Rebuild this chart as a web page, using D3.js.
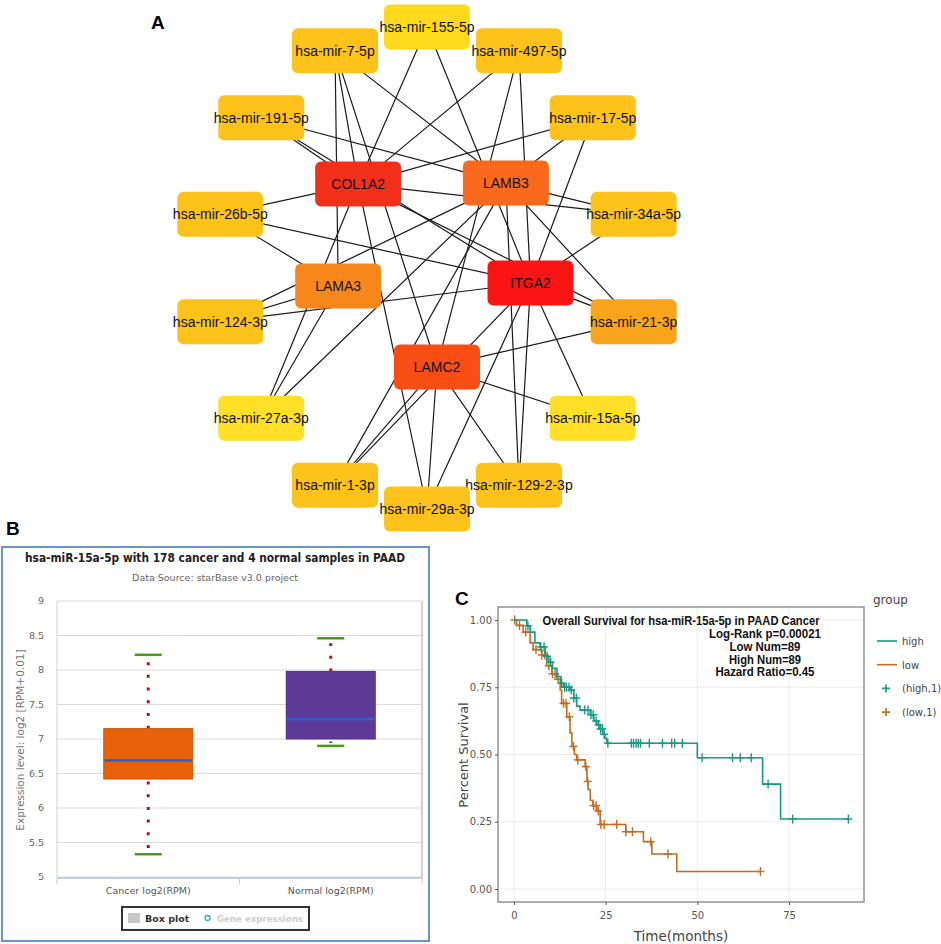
<!DOCTYPE html>
<html>
<head>
<meta charset="utf-8">
<script src="https://cdn.jsdelivr.net/npm/d3@7"></script>
<style>
body { margin: 0; background: #fff; }
svg { display: block; }
</style>
</head>
<body>
<script>
// ---------- data ----------
const genes = ["COL1A2", "LAMB3", "LAMA3", "ITGA2", "LAMC2"];
const geneColors = ["#f2301a", "#fb6a1c", "#f8871b", "#fb1414", "#f84d15"];
const mirnas = ["hsa-mir-155-5p", "hsa-mir-497-5p", "hsa-mir-17-5p", "hsa-mir-34a-5p", "hsa-mir-21-3p",
    "hsa-mir-15a-5p", "hsa-mir-129-2-3p", "hsa-mir-29a-3p", "hsa-mir-1-3p", "hsa-mir-27a-3p",
    "hsa-mir-124-3p", "hsa-mir-26b-5p", "hsa-mir-191-5p", "hsa-mir-7-5p"];
const mirnaColors = ["#ffda1c", "#fdc31a", "#fdc31a", "#fdc31a", "#f9a51c", "#ffdf28", "#fdc31a",
    "#fdc31a", "#fdc31a", "#ffdf28", "#fdc31a", "#fdc31a", "#fdc31a", "#fdc31a"];
const links = [
    ["hsa-mir-155-5p", "COL1A2"], ["hsa-mir-155-5p", "ITGA2"],
    ["hsa-mir-7-5p", "COL1A2"], ["hsa-mir-7-5p", "LAMC2"], ["hsa-mir-7-5p", "LAMB3"], ["hsa-mir-7-5p", "LAMA3"],
    ["hsa-mir-497-5p", "COL1A2"], ["hsa-mir-497-5p", "LAMC2"], ["hsa-mir-497-5p", "ITGA2"],
    ["hsa-mir-191-5p", "COL1A2"], ["hsa-mir-191-5p", "ITGA2"], ["hsa-mir-191-5p", "LAMB3"],
    ["hsa-mir-17-5p", "COL1A2"], ["hsa-mir-17-5p", "LAMB3"], ["hsa-mir-17-5p", "ITGA2"],
    ["hsa-mir-26b-5p", "COL1A2"], ["hsa-mir-26b-5p", "ITGA2"], ["hsa-mir-26b-5p", "LAMA3"],
    ["hsa-mir-34a-5p", "COL1A2"], ["hsa-mir-34a-5p", "LAMB3"], ["hsa-mir-34a-5p", "ITGA2"],
    ["hsa-mir-124-3p", "LAMB3"], ["hsa-mir-124-3p", "LAMA3"], ["hsa-mir-124-3p", "ITGA2"],
    ["hsa-mir-21-3p", "ITGA2"], ["hsa-mir-21-3p", "LAMC2"], ["hsa-mir-21-3p", "LAMB3"], ["hsa-mir-21-3p", "COL1A2"],
    ["hsa-mir-27a-3p", "LAMA3"], ["hsa-mir-27a-3p", "LAMB3"], ["hsa-mir-27a-3p", "COL1A2"],
    ["hsa-mir-15a-5p", "LAMC2"], ["hsa-mir-15a-5p", "ITGA2"],
    ["hsa-mir-1-3p", "LAMB3"], ["hsa-mir-1-3p", "LAMC2"], ["hsa-mir-1-3p", "ITGA2"],
    ["hsa-mir-29a-3p", "COL1A2"], ["hsa-mir-29a-3p", "LAMC2"], ["hsa-mir-29a-3p", "ITGA2"],
    ["hsa-mir-129-2-3p", "LAMC2"], ["hsa-mir-129-2-3p", "ITGA2"], ["hsa-mir-129-2-3p", "LAMB3"]
];

// box plot (panel B)
const boxGroups = ["Cancer log2(RPM)", "Normal log2(RPM)"];
const boxMin = [5.33, 6.90];
const boxQ1 = [6.42, 7.00];
const boxMedian = [6.69, 7.29];
const boxQ3 = [7.15, 7.98];
const boxMax = [8.22, 8.46];
const boxColors = ["#e8620a", "#5e3a98"];
const boxTicks = [5, 5.5, 6, 6.5, 7, 7.5, 8, 8.5, 9];

// survival (panel C)
const highTime = [0, 3.5, 4.4, 5.7, 7.1, 8.5, 9.5, 10.5, 11.7, 12.8, 13.5, 15.3, 16.3, 17.1, 18, 20.8, 21.8, 22.6, 23.5, 24.2, 24.8, 25.3, 50, 67.8, 72.7, 91.3];
const highSurv = [1, 0.978, 0.955, 0.915, 0.9, 0.865, 0.843, 0.82, 0.79, 0.765, 0.75, 0.74, 0.71, 0.68, 0.665, 0.648, 0.625, 0.61, 0.595, 0.575, 0.56, 0.542, 0.488, 0.39, 0.26, 0.26];
const highCensor = [3.8, 7.3, 8.2, 9, 10, 13, 13.8, 14.3, 15, 15.6, 16.3, 17, 19.3, 20.2, 21, 21.6, 22.4, 23.1, 23.6, 24.1, 24.6, 25.6,
    32, 32.6, 33.3, 33.9, 34.5, 36.9, 40.5, 43, 43.8, 45.9, 51.3, 59.6, 61.7, 64.7, 69.3, 76, 91.2];
const lowTime = [0, 0.7, 2.5, 4.4, 5.2, 7.6, 8.9, 10.3, 11.7, 12.6, 13, 14.4, 15.3, 15.8, 16.5, 17.1, 19.4, 19.9, 20.2, 20.8, 21.5, 22.6, 23.5, 30.5, 35.3, 37.6, 44.4, 67.2];
const lowSurv = [1, 0.98, 0.955, 0.915, 0.89, 0.87, 0.83, 0.8, 0.78, 0.74, 0.69, 0.64, 0.58, 0.53, 0.5, 0.48, 0.455, 0.4, 0.37, 0.33, 0.31, 0.29, 0.24, 0.213, 0.176, 0.13, 0.065, 0.065];
const lowCensor = [0.2, 1.5, 3.2, 6, 7.6, 8.4, 9.5, 10.5, 11.2, 12, 13.5, 14.2, 15.1, 16.2, 17.4, 19.6, 20.1, 21.7, 22.4, 23, 23.7, 24.6,
    28, 30.5, 32.3, 37.3, 42, 67.2];
const survTicksX = [0, 25, 50, 75];
const survTicksY = [0, 0.25, 0.5, 0.75, 1];
const annTitle = "Overall Survival for hsa-miR-15a-5p in PAAD Cancer";
const annotation = ["Log-Rank p=0.00021", "Low Num=89", "High Num=89", "Hazard Ratio=0.45"];

// ---------- svg ----------
const W = 941, H = 944;
const svg = d3.select("body").append("svg")
    .attr("width", W)
    .attr("height", H);
svg.append("rect").attr("width", W).attr("height", H).attr("fill", "#fff");

function panelLabel(txt, x, y) {
    svg.append("text").attr("x", x).attr("y", y)
        .attr("font-family", "Liberation Sans, Arial, sans-serif")
        .attr("font-weight", "bold").attr("font-size", 19)
        .text(txt);
}
panelLabel("A", 151, 29);
panelLabel("B", 6, 535);
panelLabel("C", 455, 605);

// ---------- panel A : network ----------
const net = svg.append("g").attr("class", "network");
const cx = 427, cy = 268, rx = 212, ry = 241;
const angle = d3.scaleLinear().domain([0, mirnas.length]).range([0, 2 * Math.PI]);
// inner ring layout (angle in degrees from top, radius)
const geneLayout = { COL1A2: [-44.6, 108], LAMB3: [42.7, 106], LAMA3: [-104.6, 99], ITGA2: [102.8, 99], LAMC2: [178.4, 106] };
const gcx = 434, gcy = 261;

const pos = {};
mirnas.forEach((m, i) => {
    const a = angle(i);
    pos[m] = [cx + rx * Math.sin(a), cy - ry * Math.cos(a)];
});
genes.forEach(g => {
    const [deg, r] = geneLayout[g];
    const a = deg * Math.PI / 180;
    pos[g] = [gcx + r * Math.sin(a), gcy - r * Math.cos(a)];
});

net.selectAll("line.edge")
    .data(links)
    .join("line")
    .attr("class", "edge")
    .attr("x1", d => pos[d[0]][0]).attr("y1", d => pos[d[0]][1])
    .attr("x2", d => pos[d[1]][0]).attr("y2", d => pos[d[1]][1])
    .attr("stroke", "#1a1a1a")
    .attr("stroke-width", 1.2);

const nodes = mirnas.map((m, i) => ({ id: m, color: mirnaColors[i] }))
    .concat(genes.map((g, i) => ({ id: g, color: geneColors[i] })));
const nw = 86, nh = 45;
const ng = net.selectAll("g.node")
    .data(nodes)
    .join("g")
    .attr("class", "node")
    .attr("transform", d => `translate(${pos[d.id][0]},${pos[d.id][1]})`);
ng.append("rect")
    .attr("x", -nw / 2).attr("y", -nh / 2)
    .attr("width", nw).attr("height", nh)
    .attr("rx", 6)
    .attr("fill", d => d.color);
ng.append("text")
    .attr("text-anchor", "middle")
    .attr("dy", "0.35em")
    .attr("font-family", "Liberation Sans, Arial, sans-serif")
    .attr("font-size", 14)
    .attr("fill", "#111")
    .text(d => d.id);

// ---------- panel B : box plot ----------
const bp = svg.append("g").attr("class", "boxplot");
bp.append("rect")
    .attr("x", 2).attr("y", 547).attr("width", 427).attr("height", 394)
    .attr("fill", "#fff").attr("stroke", "#6d92c6").attr("stroke-width", 2);
bp.append("text")
    .attr("x", 215).attr("y", 562)
    .attr("text-anchor", "middle")
    .attr("font-family", "DejaVu Sans, sans-serif")
    .attr("font-weight", "bold").attr("font-size", 12)
    .attr("textLength", 380).attr("lengthAdjust", "spacingAndGlyphs")
    .attr("fill", "#222")
    .text("hsa-miR-15a-5p with 178 cancer and 4 normal samples in PAAD");
bp.append("text")
    .attr("x", 215).attr("y", 581)
    .attr("text-anchor", "middle")
    .attr("font-family", "DejaVu Sans, sans-serif")
    .attr("font-size", 9.5)
    .attr("fill", "#666")
    .text("Data Source: starBase v3.0 project");

const by = d3.scaleLinear().domain([5, 9]).range([877, 601]);
const bx = d3.scaleBand().domain(boxGroups).range([57, 422]);
bp.selectAll("line.grid")
    .data(boxTicks)
    .join("line")
    .attr("class", "grid")
    .attr("x1", 57).attr("x2", 422)
    .attr("y1", d => by(d)).attr("y2", d => by(d))
    .attr("stroke", "#dcdcdc").attr("stroke-width", 1);
bp.append("line").attr("x1", 57).attr("x2", 57).attr("y1", 601).attr("y2", 877).attr("stroke", "#d0d0d0");
bp.append("line").attr("x1", 422).attr("x2", 422).attr("y1", 601).attr("y2", 877).attr("stroke", "#c4c4c4").attr("stroke-width", 1.5);
bp.append("line").attr("x1", 57).attr("x2", 423).attr("y1", 878).attr("y2", 878).attr("stroke", "#c2cfde").attr("stroke-width", 2);
bp.selectAll("line.xtick")
    .data([57, 239.5, 422])
    .join("line")
    .attr("class", "xtick")
    .attr("x1", d => d).attr("x2", d => d)
    .attr("y1", 878).attr("y2", 884)
    .attr("stroke", "#c2cfde");
bp.selectAll("text.ylab")
    .data(boxTicks)
    .join("text")
    .attr("class", "ylab")
    .attr("x", 44).attr("y", d => by(d) + 3)
    .attr("text-anchor", "end")
    .attr("font-family", "DejaVu Sans, sans-serif")
    .attr("font-size", 9.5)
    .attr("fill", "#666")
    .text(d => d);
bp.append("text")
    .attr("transform", "translate(24,740) rotate(-90)")
    .attr("text-anchor", "middle")
    .attr("font-family", "DejaVu Sans, sans-serif")
    .attr("font-size", 10.5)
    .attr("fill", "#777")
    .text("Expression level: log2 [RPM+0.01]");
bp.selectAll("text.xlab")
    .data(boxGroups)
    .join("text")
    .attr("class", "xlab")
    .attr("x", d => bx(d) + bx.bandwidth() / 2).attr("y", 894)
    .attr("text-anchor", "middle")
    .attr("font-family", "DejaVu Sans, sans-serif")
    .attr("font-size", 9.5)
    .attr("fill", "#555")
    .text(d => d);

const boxW = 89, capW = 27;
boxGroups.forEach((g, i) => {
    const c = bx(g) + bx.bandwidth() / 2;
    // dotted whiskers
    bp.append("line")
        .attr("x1", c).attr("x2", c)
        .attr("y1", by(boxQ3[i])).attr("y2", by(boxMax[i]) + 5)
        .attr("stroke", "#a51818").attr("stroke-width", 3)
        .attr("stroke-dasharray", "3,9.7");
    bp.append("line")
        .attr("x1", c).attr("x2", c)
        .attr("y1", by(boxQ1[i]) + 2.5).attr("y2", by(boxMin[i]) - 3)
        .attr("stroke", "#a51818").attr("stroke-width", 3)
        .attr("stroke-dasharray", "3,9.7");
    bp.append("rect")
        .attr("x", c - boxW / 2).attr("y", by(boxQ3[i]))
        .attr("width", boxW).attr("height", by(boxQ1[i]) - by(boxQ3[i]))
        .attr("fill", boxColors[i])
        .attr("stroke", d3.color(boxColors[i]).darker(0.4)).attr("stroke-width", 1);
    bp.append("line")
        .attr("x1", c - boxW / 2 + 1).attr("x2", c + boxW / 2 - 1)
        .attr("y1", by(boxMedian[i])).attr("y2", by(boxMedian[i]))
        .attr("stroke", "#2b61c4").attr("stroke-width", 2.5);
    [boxMin[i], boxMax[i]].forEach(v => {
        bp.append("line")
            .attr("x1", c - capW / 2).attr("x2", c + capW / 2)
            .attr("y1", by(v)).attr("y2", by(v))
            .attr("stroke", "#4a9a14").attr("stroke-width", 2.5);
    });
});

// legend
bp.append("rect").attr("x", 122).attr("y", 907).attr("width", 187).attr("height", 23)
    .attr("fill", "#fff").attr("stroke", "#333").attr("stroke-width", 2);
bp.append("rect").attr("x", 128).attr("y", 913).attr("width", 12).attr("height", 10).attr("fill", "#c8c8c8");
bp.append("text").attr("x", 145).attr("y", 922)
    .attr("font-family", "DejaVu Sans, sans-serif").attr("font-weight", "bold").attr("font-size", 9.5)
    .attr("fill", "#333").text("Box plot");
bp.append("circle").attr("cx", 207.5).attr("cy", 918).attr("r", 2.5)
    .attr("fill", "none").attr("stroke", "#3aa8c8").attr("stroke-width", 1.3);
bp.append("text").attr("x", 217).attr("y", 922)
    .attr("font-family", "DejaVu Sans, sans-serif").attr("font-weight", "bold").attr("font-size", 9)
    .attr("textLength", 86).attr("lengthAdjust", "spacingAndGlyphs")
    .attr("fill", "#cfcfcf").text("Gene expressions");

// ---------- panel C : survival ----------
const sc = svg.append("g").attr("class", "survival");
const sx = d3.scaleLinear().domain([0, 75]).range([514, 789]);
const sy = d3.scaleLinear().domain([0, 1]).range([889, 620]);
const pL = 498, pR = 864, pT = 607, pB = 902;

sc.append("rect").attr("x", pL).attr("y", pT).attr("width", pR - pL).attr("height", pB - pT).attr("fill", "#fff");
sc.selectAll("line.gx")
    .data(survTicksX)
    .join("line").attr("class", "gx")
    .attr("x1", d => sx(d)).attr("x2", d => sx(d)).attr("y1", pT).attr("y2", pB)
    .attr("stroke", "#ebebeb");
sc.selectAll("line.gy")
    .data(survTicksY)
    .join("line").attr("class", "gy")
    .attr("x1", pL).attr("x2", pR).attr("y1", d => sy(d)).attr("y2", d => sy(d))
    .attr("stroke", "#ebebeb");

const stepLine = d3.line().x(d => sx(d[0])).y(d => sy(d[1])).curve(d3.curveStepAfter);
function survAt(times, surv, t) {
    const i = d3.bisectRight(times, t) - 1;
    return surv[Math.max(0, i)];
}
function drawCurve(times, surv, censor, color) {
    sc.append("path")
        .datum(times.map((t, i) => [t, surv[i]]))
        .attr("d", stepLine)
        .attr("fill", "none")
        .attr("stroke", color).attr("stroke-width", 1.6);
    const m = sc.selectAll(null)
        .data(censor)
        .join("g")
        .attr("transform", t => `translate(${sx(t)},${sy(survAt(times, surv, t))})`);
    m.append("line").attr("x1", -4).attr("x2", 4).attr("stroke", color).attr("stroke-width", 1.4);
    m.append("line").attr("y1", -4.5).attr("y2", 4.5).attr("stroke", color).attr("stroke-width", 1.4);
}
drawCurve(lowTime, lowSurv, lowCensor, "#c26d22");
drawCurve(highTime, highSurv, highCensor, "#179a82");

sc.append("rect").attr("x", pL).attr("y", pT).attr("width", pR - pL).attr("height", pB - pT)
    .attr("fill", "none").attr("stroke", "#9a9a9a").attr("stroke-width", 1.6);

// axes
const axX = sc.append("g").attr("transform", `translate(0,${pB})`)
    .call(d3.axisBottom(sx).tickValues(survTicksX).tickSize(3).tickFormat(d3.format("d")));
const axY = sc.append("g").attr("transform", `translate(${pL},0)`)
    .call(d3.axisLeft(sy).tickValues(survTicksY).tickSize(3).tickFormat(d3.format(".2f")));
[axX, axY].forEach(a => {
    a.select(".domain").remove();
    a.selectAll(".tick line").attr("stroke", "#555");
    a.selectAll(".tick text")
        .attr("font-family", "DejaVu Sans, sans-serif")
        .attr("font-size", 10)
        .attr("fill", "#555");
});
axX.selectAll(".tick text").attr("dy", "1.1em");

sc.append("text").attr("x", 681).attr("y", 941)
    .attr("text-anchor", "middle")
    .attr("font-family", "DejaVu Sans, sans-serif").attr("font-size", 13.5)
    .attr("fill", "#444").text("Time(months)");
sc.append("text").attr("transform", "translate(468,755) rotate(-90)")
    .attr("text-anchor", "middle")
    .attr("font-family", "DejaVu Sans, sans-serif").attr("font-size", 13)
    .attr("fill", "#444").text("Percent Survival");

// annotation (condensed bold, fitted to the widths in the reference)
const annFont = "Liberation Sans, Arial, sans-serif";
const annWidths = [112, 71, 72, 99];
sc.append("text").attr("x", 681).attr("y", 624.5)
    .attr("text-anchor", "middle")
    .attr("font-family", annFont).attr("font-weight", "bold").attr("font-size", 12.5)
    .attr("textLength", 277).attr("lengthAdjust", "spacingAndGlyphs")
    .attr("fill", "#111").text(annTitle);
sc.selectAll("text.ann")
    .data(annotation)
    .join("text").attr("class", "ann")
    .attr("x", 765).attr("y", (d, i) => 638 + i * 12.8)
    .attr("text-anchor", "middle")
    .attr("font-family", annFont).attr("font-weight", "bold").attr("font-size", 12.5)
    .attr("textLength", (d, i) => annWidths[i]).attr("lengthAdjust", "spacingAndGlyphs")
    .attr("fill", "#111").text(d => d);

// legend
const lg = sc.append("g");
lg.append("text").attr("x", 873).attr("y", 604)
    .attr("font-family", "DejaVu Sans, sans-serif").attr("font-size", 12)
    .attr("fill", "#444").text("group");
const legendItems = [
    { label: "high", color: "#179a82", type: "line" },
    { label: "low", color: "#c26d22", type: "line" },
    { label: "(high,1)", color: "#179a82", type: "plus" },
    { label: "(low,1)", color: "#c26d22", type: "plus" }
];
const li = lg.selectAll("g.item")
    .data(legendItems)
    .join("g").attr("class", "item")
    .attr("transform", (d, i) => `translate(0,${641 + i * 23.7})`);
li.filter(d => d.type === "line").append("line")
    .attr("x1", 877).attr("x2", 897)
    .attr("stroke", d => d.color).attr("stroke-width", 1.6);
li.filter(d => d.type === "plus").append("path")
    .attr("d", "M882,0H890M886,-4V4")
    .attr("stroke", d => d.color).attr("stroke-width", 1.6);
li.append("text").attr("x", 902).attr("y", 4)
    .attr("font-family", "DejaVu Sans, sans-serif").attr("font-size", 10)
    .attr("fill", "#444").text(d => d.label);
</script>
</body>
</html>
